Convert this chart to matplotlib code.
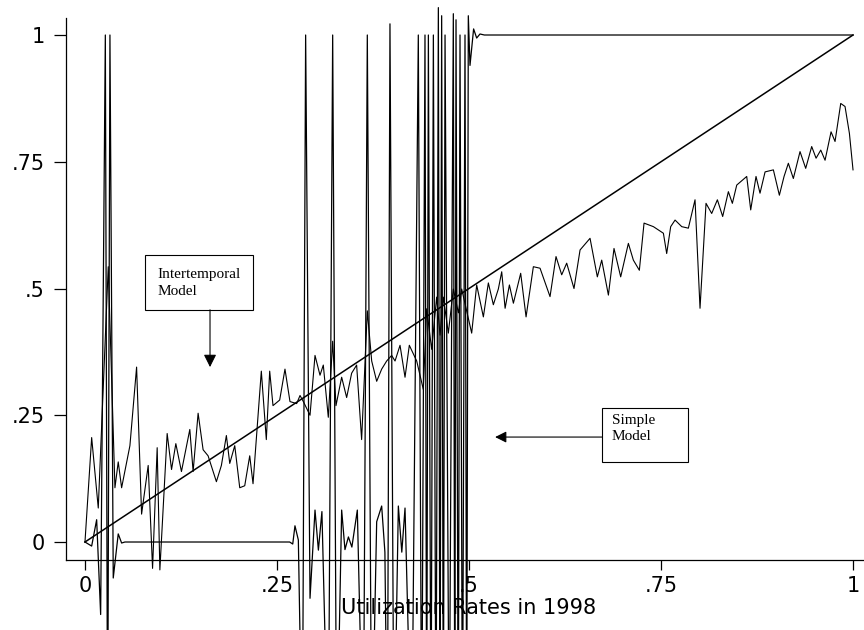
import matplotlib
matplotlib.use("Agg")
import matplotlib.pyplot as plt
from matplotlib.patches import Rectangle

plt.rcParams["font.family"] = ["DejaVu Sans"]

# --- data ---
x_ticks = [0, 0.25, 0.5, 0.75, 1]
x_tick_labels = ["0", ".25", ".5", ".75", "1"]
y_ticks = [0, 0.25, 0.5, 0.75, 1]
y_tick_labels = ["0", ".25", ".5", ".75", "1"]

# 45-degree reference line
diag_x = [0.0, 1.0]
diag_y = [0.0, 1.0]

# intertemporal model (noisy curve)
inter_x = [
    0.0, 0.0087, 0.0173, 0.0303, 0.0390, 0.0433, 0.0477, 0.0585, 0.0672, 0.0737,
    0.0823, 0.0880, 0.0940, 0.0975, 0.1070, 0.1127, 0.1183, 0.1256, 0.1365, 0.1408,
    0.1473, 0.1538, 0.1603, 0.1711, 0.1776, 0.1841, 0.1885, 0.1950, 0.2015, 0.2080,
    0.2145, 0.2188, 0.2296, 0.2361, 0.2405, 0.2448, 0.2535, 0.2604, 0.2669, 0.2756,
    0.2800, 0.2843, 0.2930, 0.2995, 0.3060, 0.3103, 0.3168, 0.3225, 0.3268, 0.3342,
    0.3407, 0.3472, 0.3537, 0.3602, 0.3676, 0.3733, 0.3798, 0.3863, 0.3928, 0.3993,
    0.4037, 0.4102, 0.4167, 0.4223, 0.4319, 0.4362, 0.4405, 0.4449, 0.4514, 0.4579,
    0.4623, 0.4666, 0.4731, 0.4796, 0.4862, 0.4905, 0.5035, 0.5100, 0.5187, 0.5252,
    0.5317, 0.5382, 0.5426, 0.5470, 0.5526, 0.5578, 0.5673, 0.5743, 0.5838, 0.5925,
    0.6055, 0.6133, 0.6207, 0.6272, 0.6367, 0.6446, 0.6576, 0.6671, 0.6728, 0.6815,
    0.6888, 0.6975, 0.7075, 0.7140, 0.7218, 0.7279, 0.7401, 0.7531, 0.7574, 0.7626,
    0.7683, 0.7770, 0.7856, 0.7943, 0.8008, 0.8086, 0.8160, 0.8234, 0.8303, 0.8377,
    0.8429, 0.8486, 0.8616, 0.8668, 0.8737, 0.8789, 0.8855, 0.8963, 0.9041, 0.9102,
    0.9158, 0.9223, 0.9310, 0.9384, 0.9462, 0.9519, 0.9580, 0.9636, 0.9714, 0.9766,
    0.9840, 0.9896, 0.9953, 1.0000,
]
inter_y = [
    0.000, 0.206, 0.067, 0.543, 0.107, 0.158, 0.107, 0.190, 0.345, 0.055,
    0.151, -0.052, 0.186, -0.055, 0.214, 0.143, 0.194, 0.139, 0.222, 0.139,
    0.254, 0.182, 0.170, 0.119, 0.151, 0.210, 0.155, 0.190, 0.107, 0.111,
    0.170, 0.115, 0.337, 0.202, 0.337, 0.269, 0.280, 0.341, 0.277, 0.273,
    0.289, 0.277, 0.250, 0.368, 0.329, 0.349, 0.246, 0.396, 0.269, 0.325,
    0.285, 0.333, 0.349, 0.202, 0.456, 0.357, 0.317, 0.341, 0.357, 0.368,
    0.357, 0.388, 0.325, 0.388, 0.357, 0.329, 0.301, 0.460, 0.380, 0.483,
    0.408, 0.483, 0.412, 0.499, 0.452, 0.499, 0.412, 0.507, 0.444, 0.511,
    0.468, 0.499, 0.533, 0.461, 0.507, 0.471, 0.530, 0.444, 0.543, 0.540,
    0.484, 0.563, 0.527, 0.550, 0.500, 0.576, 0.599, 0.523, 0.556, 0.487,
    0.579, 0.523, 0.589, 0.556, 0.536, 0.629, 0.622, 0.609, 0.569, 0.622,
    0.635, 0.622, 0.619, 0.675, 0.461, 0.668, 0.648, 0.675, 0.642, 0.691,
    0.668, 0.704, 0.721, 0.655, 0.721, 0.688, 0.730, 0.734, 0.684, 0.721,
    0.747, 0.717, 0.770, 0.737, 0.780, 0.757, 0.773, 0.753, 0.809, 0.790,
    0.865, 0.859, 0.806, 0.734,
]

# simple model (0/1 prediction with overshooting spline)
simple_x = [
    0.0000, 0.0087, 0.0152, 0.0204, 0.0265, 0.0295, 0.0325, 0.0368, 0.0433, 0.0477,
    0.0520, 0.2665, 0.2705, 0.2734, 0.2778, 0.2830, 0.2873, 0.2930, 0.2995, 0.3039,
    0.3085, 0.3168, 0.3225, 0.3277, 0.3342, 0.3385, 0.3430, 0.3475, 0.3546, 0.3624,
    0.3676, 0.3733, 0.3798, 0.3863, 0.3905, 0.3937, 0.3971, 0.4023, 0.4080, 0.4125,
    0.4167, 0.4254, 0.4340, 0.4384, 0.4427, 0.4449, 0.4471, 0.4505, 0.4536, 0.4570,
    0.4601, 0.4622, 0.4644, 0.4666, 0.4688, 0.4742, 0.4796, 0.4815, 0.4831, 0.4860,
    0.4883, 0.4915, 0.4948, 0.4970, 0.4991, 0.5013, 0.5060, 0.5100, 0.5143, 0.5200,
    1.0000,
]
simple_y = [
    0.000, -0.008, 0.044, -0.143, 1.000, -0.450, 1.000, -0.071, 0.016, -0.002,
    0.000, 0.000, -0.004, 0.032, 0.004, -0.450, 1.000, -0.111, 0.063, -0.016,
    0.060, -0.450, 1.000, -0.450, 0.063, -0.015, 0.010, -0.010, 0.063, -0.450,
    1.000, -0.450, 0.040, 0.071, -0.020, -0.450, 1.022, -0.450, 0.071, -0.020,
    0.067, -0.450, 1.000, -0.450, 1.000, -0.450, 1.000, -0.450, 1.000, -0.450,
    1.054, -0.450, 1.038, -0.450, 1.000, -0.450, 1.042, -0.450, 1.030, -0.450,
    1.000, -0.450, 1.000, -0.450, 1.038, 0.940, 1.012, 0.994, 1.002, 1.000,
    1.000,
]

# --- figure ---
fig = plt.figure(figsize=(8.64, 6.3), dpi=100)
ax = fig.add_axes([0.0764, 0.1111, 0.9236, 0.8603])

ax.plot(diag_x, diag_y, color="black", lw=1.1, clip_on=False)
ax.plot(simple_x, simple_y, color="black", lw=0.9, clip_on=False)
ax.plot(inter_x, inter_y, color="black", lw=0.8, clip_on=False)

ax.set_xlim(-0.0247, 1.0143)
ax.set_ylim(-0.0355, 1.0335)

ax.spines["top"].set_visible(False)
ax.spines["right"].set_visible(False)
for side in ["left", "bottom"]:
    ax.spines[side].set_linewidth(0.9)

ax.set_xticks(x_ticks)
ax.set_xticklabels(x_tick_labels)
ax.set_yticks(y_ticks)
ax.set_yticklabels(y_tick_labels)
ax.tick_params(axis="y", length=8.5, width=0.9, pad=7, labelsize=15)
ax.tick_params(axis="x", length=7.5, width=0.9, pad=4, labelsize=15)

ax.text(0.5, -0.130, "Utilization Rates in 1998", ha="center", va="center",
        fontsize=15, clip_on=False)

# annotation boxes
serif = ["Liberation Serif", "DejaVu Serif"]
ax.add_patch(Rectangle((0.078, 0.458), 0.141, 0.108, fill=False, lw=0.8,
                       edgecolor="black", clip_on=False))
ax.text(0.094, 0.540, "Intertemporal\nModel", ha="left", va="top",
        family=serif, fontsize=11, linespacing=1.35)
ax.annotate("", xy=(0.1628, 0.345), xytext=(0.1628, 0.458),
            arrowprops=dict(arrowstyle="-|>", color="black", lw=0.8,
                            mutation_scale=19, shrinkA=0, shrinkB=0))

ax.add_patch(Rectangle((0.673, 0.158), 0.112, 0.106, fill=False, lw=0.8,
                       edgecolor="black", clip_on=False))
ax.text(0.686, 0.253, "Simple\nModel", ha="left", va="top",
        family=serif, fontsize=11, linespacing=1.35)
ax.annotate("", xy=(0.534, 0.207), xytext=(0.673, 0.207),
            arrowprops=dict(arrowstyle="-|>", color="black", lw=0.8,
                            mutation_scale=17, shrinkA=0, shrinkB=0))

fig.savefig("out.png", dpi=100)
